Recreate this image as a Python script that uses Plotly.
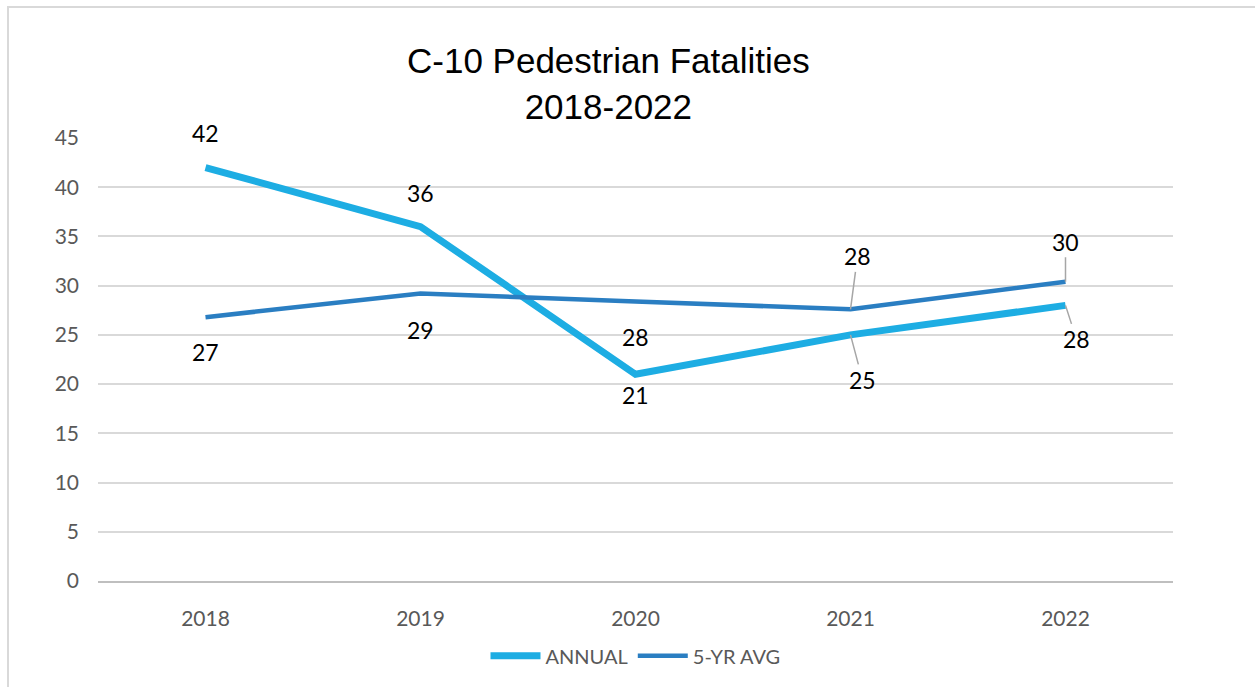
import plotly.graph_objects as go

years = ["2018", "2019", "2020", "2021", "2022"]
annual = [42, 36, 21, 25, 28]
five_yr_avg = [26.8, 29.2, 28.4, 27.6, 30.4]

ANNUAL_COLOR = "#1DADE3"
AVG_COLOR = "#2A7EC2"
LABEL_FONT = dict(family="Lato", size=23, color="black")

fig = go.Figure()
fig.add_trace(go.Scatter(
    x=years, y=annual, mode="lines", name="ANNUAL",
    line=dict(color=ANNUAL_COLOR, width=7)
))
fig.add_trace(go.Scatter(
    x=years, y=five_yr_avg, mode="lines", name="5-YR AVG",
    line=dict(color=AVG_COLOR, width=4.5)
))

# data label placement: ("up"/"down", px) plain labels, (ax, ay) labels with leader lines
annual_offsets = [("up", 35), ("up", 34), ("down", 21), (12, 45), (11, 34)]
avg_offsets = [("down", 35), ("down", 36), ("down", 36), (7, -53), (0, -40)]

for series, offsets in [(annual, annual_offsets), (five_yr_avg, avg_offsets)]:
    # numeric-looking category names don't resolve in annotations, use the category index
    for i, (val, off) in enumerate(zip(series, offsets)):
        text = str(int(round(val)))
        if isinstance(off[0], str):
            shift = off[1] if off[0] == "up" else -off[1]
            fig.add_annotation(x=i, y=val, text=text, showarrow=False,
                               yshift=shift, font=LABEL_FONT)
        else:
            fig.add_annotation(x=i, y=val, text=text, showarrow=True,
                               arrowhead=0, arrowwidth=1.5, arrowcolor="#A6A6A6",
                               ax=off[0], ay=off[1], font=LABEL_FONT)

fig.add_annotation(
    xref="paper", yref="paper", x=(608 - 98) / 1075, y=1 + (138 - 83) / 443,
    text="C-10 Pedestrian Fatalities<br>2018-2022", showarrow=False,
    font=dict(family="Liberation Sans", size=35, color="black"),
    yanchor="middle", xanchor="center"
)

# outer chart border
fig.add_shape(type="rect", xref="paper", yref="paper",
              x0=-90 / 1075, y0=-0.6, x1=1.3, y1=1 + 131 / 443,
              line=dict(color="#D9D9D9", width=2), layer="below")

fig.update_layout(
    width=1255, height=687,
    margin=dict(l=98, r=82, t=138, b=106),
    paper_bgcolor="white", plot_bgcolor="white",
    showlegend=True,
    legend=dict(orientation="h", x=0.5, xanchor="center",
                y=-0.169, yanchor="middle",
                font=dict(family="Lato", size=20, color="#595959"),
                itemwidth=50),
    font=dict(family="Lato"),
)
fig.update_yaxes(
    range=[0, 45], dtick=5, showgrid=True, gridcolor="#D9D9D9", gridwidth=1.5,
    zeroline=False, showline=False,
    tickfont=dict(family="Lato", size=21, color="#595959"),
    ticklabelstandoff=18,
)
fig.update_xaxes(
    type="category", range=[-0.5, 4.5], showgrid=False, zeroline=False,
    showline=True, linecolor="#BFBFBF", linewidth=2,
    tickfont=dict(family="Lato", size=21, color="#595959"),
    ticklabelstandoff=18,
)

fig.write_html("out.html", post_script="document.body.style.margin='0';",
               config={"displayModeBar": False})
